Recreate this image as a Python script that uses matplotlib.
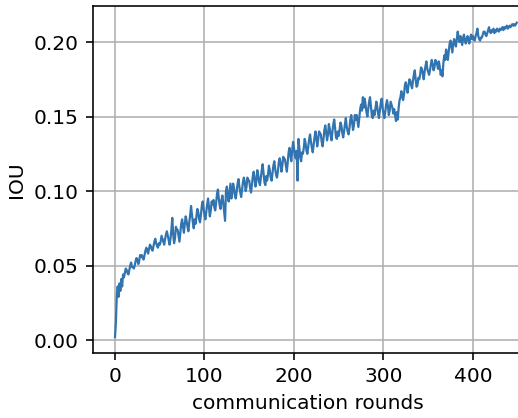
import numpy as np
import matplotlib
matplotlib.use("Agg")
import matplotlib.pyplot as plt

# IOU per communication round (rounds 0..449)
iou = [
    0.002, 0.012, 0.030, 0.036, 0.029, 0.038, 0.033, 0.041, 0.036, 0.044,
    0.042, 0.045, 0.048, 0.047, 0.045, 0.044, 0.047, 0.050, 0.052, 0.049,
    0.049, 0.048, 0.050, 0.053, 0.055, 0.054, 0.051, 0.053, 0.057, 0.056,
    0.057, 0.055, 0.054, 0.057, 0.060, 0.062, 0.060, 0.058, 0.061, 0.064,
    0.063, 0.061, 0.060, 0.063, 0.066, 0.068, 0.065, 0.063, 0.062, 0.065,
    0.064, 0.066, 0.070, 0.068, 0.066, 0.064, 0.068, 0.071, 0.073, 0.070,
    0.067, 0.064, 0.068, 0.074, 0.082, 0.071, 0.065, 0.068, 0.076, 0.074,
    0.074, 0.070, 0.066, 0.072, 0.078, 0.081, 0.076, 0.072, 0.078, 0.083,
    0.080, 0.076, 0.073, 0.079, 0.084, 0.090, 0.084, 0.079, 0.075, 0.081,
    0.078, 0.083, 0.088, 0.086, 0.081, 0.079, 0.084, 0.090, 0.093, 0.088,
    0.084, 0.081, 0.086, 0.091, 0.095, 0.089, 0.083, 0.087, 0.093, 0.091,
    0.094, 0.089, 0.087, 0.092, 0.098, 0.101, 0.095, 0.090, 0.088, 0.094,
    0.097, 0.092, 0.086, 0.080, 0.100, 0.103, 0.097, 0.093, 0.099, 0.105,
    0.095, 0.099, 0.105, 0.102, 0.097, 0.095, 0.100, 0.105, 0.108, 0.103,
    0.099, 0.096, 0.101, 0.106, 0.109, 0.106, 0.100, 0.103, 0.109, 0.107,
    0.107, 0.102, 0.099, 0.104, 0.110, 0.113, 0.108, 0.103, 0.107, 0.114,
    0.111, 0.106, 0.104, 0.109, 0.114, 0.118, 0.112, 0.106, 0.104, 0.110,
    0.107, 0.111, 0.117, 0.114, 0.109, 0.107, 0.112, 0.117, 0.120, 0.115,
    0.111, 0.109, 0.113, 0.119, 0.122, 0.119, 0.113, 0.117, 0.123, 0.122,
    0.121, 0.117, 0.113, 0.119, 0.126, 0.129, 0.124, 0.120, 0.127, 0.133,
    0.129, 0.124, 0.122, 0.127, 0.107, 0.135, 0.129, 0.123, 0.120, 0.126,
    0.125, 0.129, 0.135, 0.132, 0.127, 0.125, 0.130, 0.135, 0.138, 0.133,
    0.129, 0.126, 0.131, 0.136, 0.140, 0.136, 0.130, 0.134, 0.140, 0.139,
    0.138, 0.133, 0.130, 0.135, 0.141, 0.144, 0.139, 0.134, 0.138, 0.145,
    0.142, 0.137, 0.134, 0.140, 0.145, 0.148, 0.142, 0.136, 0.135, 0.140,
    0.137, 0.141, 0.146, 0.144, 0.139, 0.136, 0.140, 0.145, 0.149, 0.143,
    0.140, 0.138, 0.142, 0.148, 0.151, 0.146, 0.141, 0.144, 0.151, 0.148,
    0.151, 0.147, 0.143, 0.149, 0.155, 0.158, 0.154, 0.163, 0.156, 0.162,
    0.158, 0.153, 0.150, 0.155, 0.160, 0.163, 0.157, 0.151, 0.149, 0.154,
    0.151, 0.155, 0.160, 0.157, 0.152, 0.149, 0.154, 0.159, 0.162, 0.156,
    0.152, 0.149, 0.153, 0.158, 0.161, 0.157, 0.151, 0.154, 0.160, 0.158,
    0.156, 0.152, 0.155, 0.151, 0.147, 0.153, 0.148, 0.156, 0.161, 0.163,
    0.167, 0.163, 0.161, 0.165, 0.171, 0.173, 0.169, 0.166, 0.171, 0.175,
    0.174, 0.171, 0.169, 0.174, 0.178, 0.181, 0.175, 0.170, 0.171, 0.176,
    0.175, 0.178, 0.183, 0.182, 0.179, 0.175, 0.180, 0.184, 0.187, 0.182,
    0.180, 0.178, 0.181, 0.185, 0.188, 0.185, 0.181, 0.183, 0.188, 0.187,
    0.185, 0.182, 0.187, 0.183, 0.178, 0.181, 0.177, 0.186, 0.191, 0.188,
    0.195, 0.191, 0.188, 0.194, 0.199, 0.201, 0.197, 0.193, 0.199, 0.202,
    0.199, 0.197, 0.202, 0.207, 0.203, 0.200, 0.204, 0.201, 0.198, 0.203,
    0.205, 0.201, 0.199, 0.202, 0.204, 0.201, 0.199, 0.203, 0.205, 0.202,
    0.204, 0.202, 0.201, 0.204, 0.206, 0.209, 0.204, 0.202, 0.201, 0.203,
    0.203, 0.205, 0.207, 0.207, 0.205, 0.204, 0.206, 0.208, 0.210, 0.207,
    0.206, 0.208, 0.207, 0.209, 0.206, 0.208, 0.207, 0.209, 0.208, 0.207,
    0.209, 0.208, 0.209, 0.210, 0.208, 0.210, 0.209, 0.210, 0.211, 0.209,
    0.210, 0.211, 0.210, 0.211, 0.212, 0.211, 0.212, 0.211, 0.212, 0.213,
]
rounds = np.arange(len(iou))

dpi = 145
fig = plt.figure(figsize=(518 / dpi, 418 / dpi), dpi=dpi)
# axes runs off the right edge like the cropped reference
ax = fig.add_axes([93 / 518, 1 - 353 / 418, 0.83, (353 - 6) / 418])

ax.plot(rounds, iou, color="#3274b0", linewidth=1.1)
ax.set_xlim(-24.6, 455.9)
ax.set_ylim(-0.0087, 0.2242)
ax.set_xticks([0, 100, 200, 300, 400])
ax.set_yticks([0.0, 0.05, 0.10, 0.15, 0.20])
ax.set_yticklabels(["0.00", "0.05", "0.10", "0.15", "0.20"])
ax.grid(True)
ax.set_xlabel("communication rounds")
ax.set_ylabel("IOU")

fig.savefig("out.png", dpi=dpi)
